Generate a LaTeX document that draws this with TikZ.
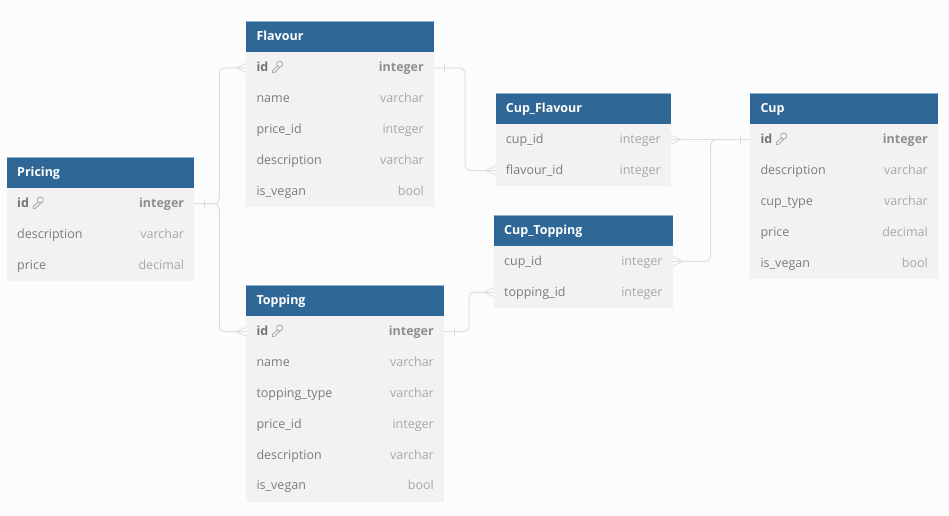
\documentclass[tikz,border=0pt]{standalone}
\usepackage{fontspec}
\setmainfont{Open Sans}
\definecolor{hdr}{HTML}{2F6796}
\definecolor{hdredge}{HTML}{8FB0CC}
\definecolor{rowbg}{HTML}{F2F2F2}
\definecolor{pagebg}{HTML}{FCFCFC}
\definecolor{nametxt}{HTML}{7C7C7C}
\definecolor{typetxt}{HTML}{A8A8A8}
\definecolor{pktxt}{HTML}{737373}
\definecolor{pktype}{HTML}{8E8E8E}
\definecolor{conn}{HTML}{DEDEDE}
\pgfkeys{/tikz/rowwidth/.initial=100}
\tikzset{
  hdrbox/.style={fill=hdr,draw=none,inner sep=0pt,outer sep=0pt,minimum height=30.9pt,anchor=north west},
  rowbox/.style={fill=rowbg,draw=none,inner sep=0pt,outer sep=0pt,minimum height=30.9pt,anchor=north west},
  hdrtext/.style={inner sep=0pt,anchor=base west,text=white,font=\fontsize{12.5}{15}\selectfont\bfseries},
  nametext/.style={inner sep=0pt,anchor=base west,text=nametxt,font=\fontsize{12.5}{15}\selectfont},
  typetext/.style={inner sep=0pt,anchor=base east,text=typetxt,font=\fontsize{12.5}{15}\selectfont},
  pkname/.style={nametext,text=pktxt,font=\fontsize{12.5}{15}\selectfont\bfseries},
  pktypetext/.style={typetext,text=pktype,font=\fontsize{12.5}{15}\selectfont\bfseries},
  link/.style={draw=conn,line width=1pt,rounded corners=5pt},
  endmark/.style={draw=conn,line width=.8pt},
}
% \tablehead{id}{title}{x}{y}{w}
\newcommand{\tablehead}[5]{%
  \node[hdrbox,minimum width=#5pt] (#1) at (#3,#4) {};
  \draw[hdredge,line width=.6pt] (#1.north west) -- (#1.north east);
  \draw[hdredge,line width=.6pt] (#1.south west) -- (#1.south east);
  \node[hdrtext] (#1-title) at ([xshift=10pt,yshift=-3.8pt]#1.west) {#2};
}
% \tablerow{id}{row}{prev}{name}{type}
\newcommand{\tablerow}[5]{%
  \node[rowbox,minimum width=\pgfkeysvalueof{/tikz/rowwidth}pt] (#1-#2) at (#3.south west) {};
  \node[nametext] (#1-#2-name) at ([xshift=10pt,yshift=-3.8pt]#1-#2.west) {#4};
  \node[typetext] (#1-#2-type) at ([xshift=-10pt,yshift=-3.8pt]#1-#2.east) {#5};
}
\newcommand{\pkrow}[3]{% id, prev, type
  \node[rowbox,minimum width=\pgfkeysvalueof{/tikz/rowwidth}pt] (#1-id) at (#2.south west) {};
  \node[pkname] (#1-id-name) at ([xshift=10pt,yshift=-3.8pt]#1-id.west) {id};
  \node[pktypetext] (#1-id-type) at ([xshift=-10pt,yshift=-3.8pt]#1-id.east) {#3};
  \begin{scope}[shift={([xshift=3pt,yshift=4.5pt]#1-id-name.base east)}]
    \draw[typetxt,line width=.8pt,line join=round] (8.2,-3) circle[radius=3pt];
    \draw[typetxt,line width=.8pt,line join=round] (6,-1) -- (1,3.5) -- (1,5.5) -- (3.2,5.5) -- (8.6,0);
  \end{scope}
}
\begin{document}
\begin{tikzpicture}[x=1pt,y=-1pt]
\useasboundingbox[fill=pagebg] (0,0) rectangle (949,515);

% Flavour
\pgfkeyssetvalue{/tikz/rowwidth}{187.7}
\tablehead{flavour}{Flavour}{246.3}{21.5}{187.7}
\pkrow{flavour}{flavour}{integer}
\tablerow{flavour}{name}{flavour-id}{name}{varchar}
\tablerow{flavour}{price}{flavour-name}{price\_id}{integer}
\tablerow{flavour}{desc}{flavour-price}{description}{varchar}
\tablerow{flavour}{vegan}{flavour-desc}{is\_vegan}{bool}
% Pricing
\pgfkeyssetvalue{/tikz/rowwidth}{187.3}
\tablehead{pricing}{Pricing}{7}{157.3}{187.3}
\pkrow{pricing}{pricing}{integer}
\tablerow{pricing}{desc}{pricing-id}{description}{varchar}
\tablerow{pricing}{price}{pricing-desc}{price}{decimal}
% Topping
\pgfkeyssetvalue{/tikz/rowwidth}{197.7}
\tablehead{topping}{Topping}{246.3}{285.3}{197.7}
\pkrow{topping}{topping}{integer}
\tablerow{topping}{name}{topping-id}{name}{varchar}
\tablerow{topping}{type}{topping-name}{topping\_type}{varchar}
\tablerow{topping}{price}{topping-type}{price\_id}{integer}
\tablerow{topping}{desc}{topping-price}{description}{varchar}
\tablerow{topping}{vegan}{topping-desc}{is\_vegan}{bool}
% Cup_Flavour
\pgfkeyssetvalue{/tikz/rowwidth}{175.3}
\tablehead{cf}{Cup\_Flavour}{495.7}{93.3}{175.3}
\tablerow{cf}{cup}{cf}{cup\_id}{integer}
\tablerow{cf}{flavour}{cf-cup}{flavour\_id}{integer}
% Cup_Topping
\pgfkeyssetvalue{/tikz/rowwidth}{178.7}
\tablehead{ct}{Cup\_Topping}{494}{215}{178.7}
\tablerow{ct}{cup}{ct}{cup\_id}{integer}
\tablerow{ct}{topping}{ct-cup}{topping\_id}{integer}
% Cup
\pgfkeyssetvalue{/tikz/rowwidth}{187.7}
\tablehead{cup}{Cup}{750.3}{93.3}{187.7}
\pkrow{cup}{cup}{integer}
\tablerow{cup}{desc}{cup-id}{description}{varchar}
\tablerow{cup}{type}{cup-desc}{cup\_type}{varchar}
\tablerow{cup}{price}{cup-type}{price}{decimal}
\tablerow{cup}{vegan}{cup-price}{is\_vegan}{bool}

% connectors
\draw[link] (pricing-id.east) -- ++(25,0) |- (flavour-id.west);
\draw[link] (pricing-id.east) -- ++(25,0) |- (topping-id.west);
\draw[link] (flavour-id.east) -- ++(31,0) |- (cf-flavour.west);
\draw[link] (topping-id.east) -- ++(25,0) |- (ct-topping.west);
\draw[link] (cf-cup.east) -- (cup-id.west);
\draw[link] (ct-cup.east) -- ++(38,0) |- (cup-id.west);

% one-side bars
\draw[endmark] ([xshift=10pt,yshift=4.5pt]pricing-id.east) -- ++(0,9);
\draw[endmark] ([xshift=10pt,yshift=4.5pt]flavour-id.east) -- ++(0,9);
\draw[endmark] ([xshift=10pt,yshift=4.5pt]topping-id.east) -- ++(0,9);
\draw[endmark] ([xshift=-10pt,yshift=4.5pt]cup-id.west) -- ++(0,9);
% many-side feet
\draw[endmark] ([yshift=4.5pt]flavour-id.west) -- ++(-10,4.5) -- ++(10,4.5);
\draw[endmark] ([yshift=4.5pt]topping-id.west) -- ++(-10,4.5) -- ++(10,4.5);
\draw[endmark] ([yshift=4.5pt]cf-flavour.west) -- ++(-10,4.5) -- ++(10,4.5);
\draw[endmark] ([yshift=4.5pt]ct-topping.west) -- ++(-10,4.5) -- ++(10,4.5);
\draw[endmark] ([yshift=4.5pt]cf-cup.east) -- ++(10,4.5) -- ++(-10,4.5);
\draw[endmark] ([yshift=4.5pt]ct-cup.east) -- ++(10,4.5) -- ++(-10,4.5);
\end{tikzpicture}
\end{document}
